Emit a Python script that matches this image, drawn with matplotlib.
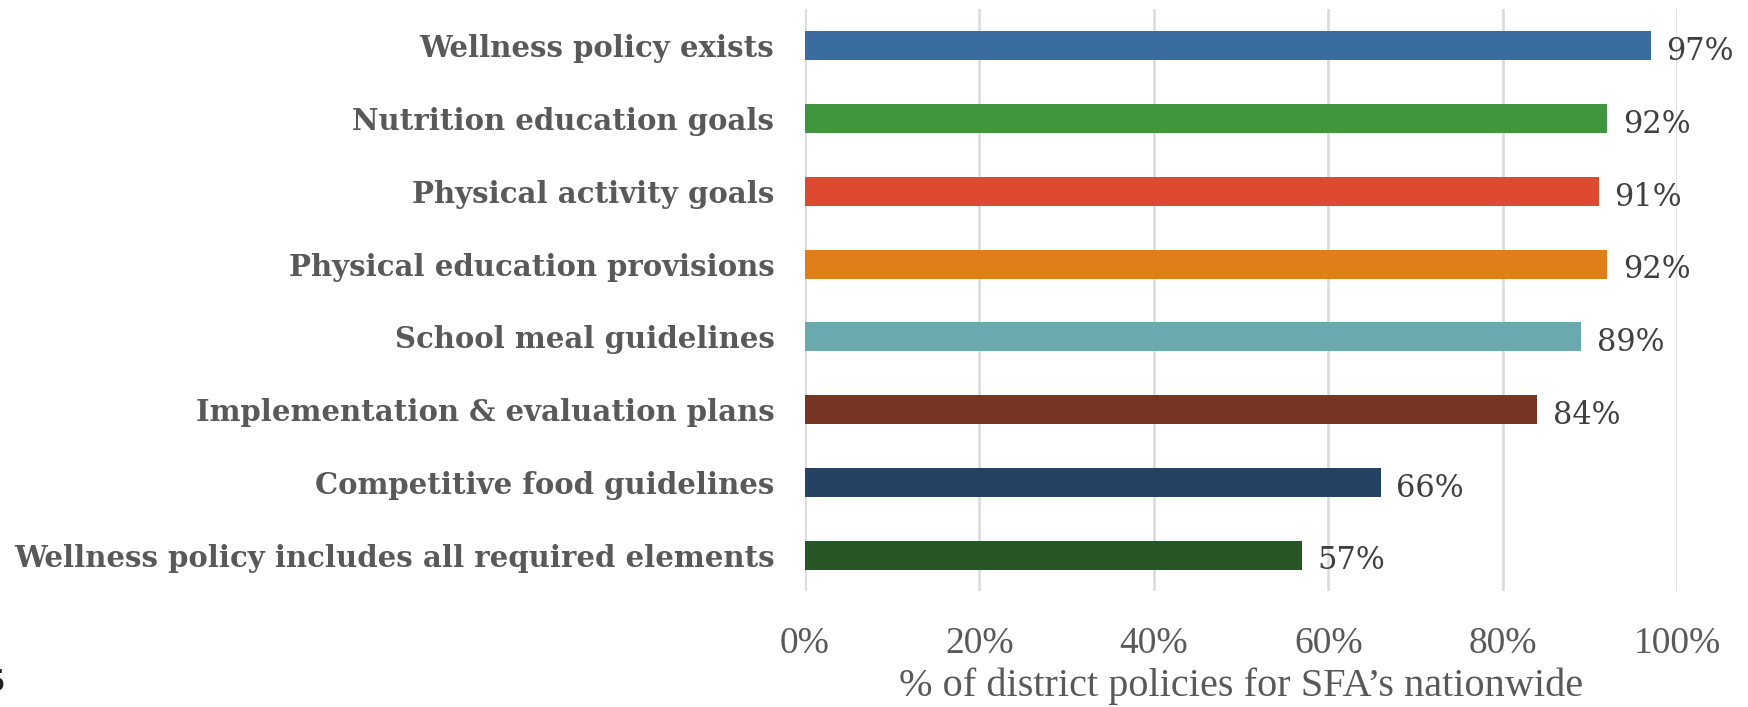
import matplotlib.pyplot as plt
import numpy as np

categories = [
    "Wellness policy exists",
    "Nutrition education goals",
    "Physical activity goals",
    "Physical education provisions",
    "School meal guidelines",
    "Implementation & evaluation plans",
    "Competitive food guidelines",
    "Wellness policy includes all required elements",
]
values = [97, 92, 91, 92, 89, 84, 66, 57]
colors = ["#3A6C9F", "#40953F", "#DE4A30", "#E07F1A",
          "#6AAAAF", "#773524", "#244263", "#285526"]
xticks = [0, 20, 40, 60, 80, 100]

plt.rcParams["font.family"] = ["Liberation Serif", "DejaVu Serif"]

fig = plt.figure(figsize=(17.48, 7.07), dpi=100)
ax = fig.add_axes([0.4605, 0.1634, 0.4989, 0.8232])

y = np.arange(len(categories))
ax.barh(y, values, height=0.4, color=colors, zorder=3)

for yi, v in zip(y, values):
    ax.text(v + 1.8, yi + 0.08, f"{v}%", va="center", ha="left",
            fontsize=22, color="#404040", family="DejaVu Serif")

ax.set_xlim(0, 100)
ax.set_ylim(len(categories) - 0.5, -0.5)
ax.set_yticks(y)
ax.set_yticklabels(categories, fontsize=21, fontweight="bold", color="#595959",
                   family="DejaVu Serif")
ax.set_xticks(xticks)
ax.set_xticklabels([f"{t}%" for t in xticks], fontsize=27, color="#595959")
ax.tick_params(axis="both", length=0)
ax.tick_params(axis="y", pad=22)
ax.tick_params(axis="x", pad=25)
ax.set_xlabel("% of district policies for SFA\u2019s nationwide",
              fontsize=29, color="#595959", labelpad=5)

ax.grid(axis="x", color="#d9d9d9", linewidth=1.8, zorder=0)
for s in ax.spines.values():
    s.set_visible(False)

# stray glyph clipped at the lower-left edge
fig.text(-0.007, 0.035, "5", fontsize=24, fontweight="bold", color="#222222",
         ha="left", va="center")

fig.savefig("out.png", dpi=100)
